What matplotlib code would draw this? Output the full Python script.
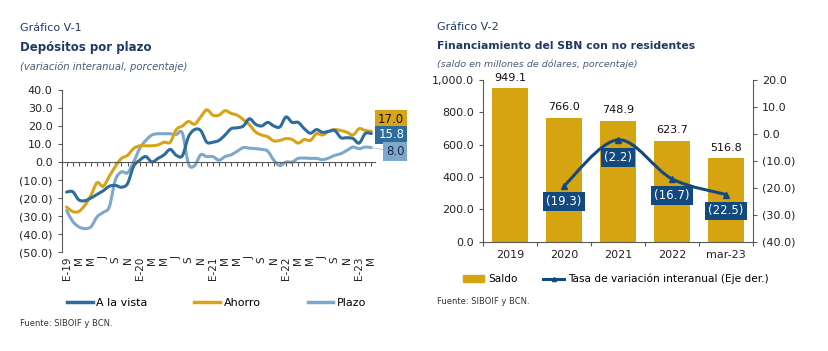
import matplotlib
matplotlib.use("Agg")
import matplotlib.pyplot as plt
from matplotlib.lines import Line2D
from matplotlib.patches import Patch, PathPatch
from matplotlib.path import Path
import numpy as np

# ---------------- data: Gráfico V-1 ----------------
month_labels = (["E-19", "M", "M", "J", "S", "N"] + ["E-20", "M", "M", "J", "S", "N"]
                + ["E-21", "M", "M", "J", "S", "N"] + ["E-22", "M", "M", "J", "S", "N"]
                + ["E-23", "M"])
a_la_vista = [-16.7, -16.5, -21, -21.5, -20, -18, -16, -13.5, -13, -14, -12, -2.4, 1, 3, 0,
              2, 4, 7, 3.7, 3.5, 14, 18, 17.5, 11, 11, 12, 15, 18.5, 19, 20, 24, 21, 20, 22,
              20, 19.5, 25, 22, 22, 18.5, 16, 18, 16.5, 17, 17.5, 13.5, 13.5, 13, 10.5, 15.8, 15.8]
ahorro = [-25, -27.5, -27.5, -24, -18.5, -11.5, -13.5, -8, -2.5, 2, 3.7, 7.5, 9, 9, 9,
          9.5, 11, 11, 18, 20, 22.5, 21, 25, 29, 26, 26, 28.5, 27, 26, 23.5, 20.7, 16.7, 15,
          14, 11.7, 12, 13, 12.5, 10.5, 12.5, 12, 15.7, 15, 17, 18, 17.5, 16.5, 15, 18.5, 17.5, 17.0]
plazo = [-27, -33, -36, -37, -36, -30.5, -28, -25, -10, -5.5, -6, 0, 7.5, 12, 15,
         15.7, 15.7, 15.7, 15.3, 16, -1, -2, 4, 3, 3, 1, 3, 4, 6, 8, 7.7, 7.4, 7, 6, 1,
         -2, 0, 0, 2, 2.2, 2, 2, 1.3, 2.2, 3.7, 4.6, 6.5, 8.3, 7.4, 8.3, 8.0]
end_labels = ["17.0", "15.8", "8.0"]

# ---------------- data: Gráfico V-2 ----------------
years = ["2019", "2020", "2021", "2022", "mar-23"]
saldo = [949.1, 766.0, 748.9, 623.7, 516.8]
tasa_years = ["2020", "2021", "2022", "mar-23"]
tasa = [-19.3, -2.2, -16.7, -22.5]

C_VISTA = "#2D6C9C"
C_AHORRO = "#D8A317"
C_PLAZO = "#7EA8CB"
C_BAR = "#D6A411"
C_NAVY = "#12497F"
C_TITLE = "#1F3A64"
C_AX = "#595959"


def paren(v, _=None):
    return f"({abs(v):,.1f})" if v < 0 else f"{v:,.1f}"


def smooth_path(xs, ys):
    """Catmull-Rom style smoothed path (like Excel's smoothed line) through the data points."""
    pts = np.column_stack([xs, ys]).astype(float)
    n = len(pts)
    verts = [pts[0]]
    codes = [Path.MOVETO]
    for i in range(n - 1):
        p0 = pts[i - 1] if i > 0 else pts[i]
        p1, p2 = pts[i], pts[i + 1]
        p3 = pts[i + 2] if i + 2 < n else pts[i + 1]
        c1 = p1 + (p2 - p0) / 6.0
        c2 = p2 - (p3 - p1) / 6.0
        verts += [c1, c2, p2]
        codes += [Path.CURVE4] * 3
    return Path(verts, codes)


def draw_smooth(ax, xs, ys, color, lw, z=2):
    ax.add_patch(PathPatch(smooth_path(xs, ys), fill=False, edgecolor=color, lw=lw,
                           joinstyle="round", capstyle="round", zorder=z))


fig = plt.figure(figsize=(8.29, 3.51), dpi=100)
W, H = 829, 351


def fx(px):
    return px / W


def fy(py):
    return 1 - py / H


# ---------------- Left chart ----------------
fig.text(fx(20), fy(28), "Gráfico V-1", fontsize=8, color=C_TITLE, va="center")
fig.text(fx(20), fy(48), "Depósitos por plazo", fontsize=8.5, color=C_TITLE,
         fontweight="bold", va="center")
fig.text(fx(20), fy(67), "(variación interanual, porcentaje)", fontsize=7.2,
         color="#4A5A75", style="italic", va="center")

ax1 = fig.add_axes([fx(61.7), fy(252), fx(375) - fx(61.7), (252 - 90) / H])
x = np.arange(len(a_la_vista))
draw_smooth(ax1, x, plazo, C_PLAZO, 2.2)
draw_smooth(ax1, x, ahorro, C_AHORRO, 2.2)
draw_smooth(ax1, x, a_la_vista, C_VISTA, 2.2)
ax1.set_xlim(-0.8, 50.6)
ax1.set_ylim(-50, 40)
ax1.set_yticks(np.arange(-50, 41, 10))
ax1.yaxis.set_major_formatter(plt.FuncFormatter(paren))
ax1.tick_params(axis="y", labelsize=8, length=3, width=0.8, direction="out",
                colors=C_AX, labelcolor="#222222")
for s in ["top", "right"]:
    ax1.spines[s].set_visible(False)
ax1.spines["left"].set_color(C_AX)
ax1.spines["bottom"].set_position(("data", 0))
ax1.spines["bottom"].set_color(C_AX)
ax1.set_xticks(x)
ax1.tick_params(axis="x", length=3, width=0.8, direction="out", colors=C_AX, labelbottom=False)
sec = ax1.secondary_xaxis(0)
sec.set_xticks(x[::2])
sec.set_xticklabels(month_labels, rotation=90, fontsize=7.5, color="#222222")
sec.tick_params(length=0, pad=3)
sec.spines["bottom"].set_visible(False)

# end labels
lab_specs = [(ahorro[-1], 23.6, C_AHORRO, "#111111", end_labels[0]),
             (a_la_vista[-1], 15.0, C_VISTA, "white", end_labels[1]),
             (plazo[-1], 5.8, C_PLAZO, "#1B2A40", end_labels[2])]
for val, ypos, bg, fg, txt in lab_specs:
    ax1.annotate(txt, xy=(50, val), xytext=(55.4, ypos), ha="right", va="center",
                 fontsize=8.5, color=fg, annotation_clip=False,
                 bbox=dict(boxstyle="square,pad=0.25", fc=bg, ec="none"),
                 arrowprops=dict(arrowstyle="-", color="#BBBBBB", lw=0.6,
                                 shrinkA=0, shrinkB=0) if txt == end_labels[2] else None)

handles1 = [Line2D([], [], color=C_VISTA, lw=2.5), Line2D([], [], color=C_AHORRO, lw=2.5),
            Line2D([], [], color=C_PLAZO, lw=2.5)]
fig.legend(handles1, ["A la vista", "Ahorro", "Plazo"], loc="center left",
           bbox_to_anchor=(fx(67), fy(303)), ncol=3, frameon=False, fontsize=8,
           handlelength=2.3, handletextpad=0.35, columnspacing=4.2, borderaxespad=0,
           borderpad=0)
fig.text(fx(20), fy(323), "Fuente: SIBOIF y BCN.", fontsize=6, color="#333333", va="center")

# ---------------- Right chart ----------------
fig.text(fx(437), fy(27), "Gráfico V-2", fontsize=8, color=C_TITLE, va="center")
fig.text(fx(437), fy(46), "Financiamiento del SBN con no residentes", fontsize=7.8,
         color=C_TITLE, fontweight="bold", va="center")
fig.text(fx(437), fy(64), "(saldo en millones de dólares, porcentaje)", fontsize=6.8,
         color="#4A5A75", style="italic", va="center")

ax2 = fig.add_axes([fx(483), fy(241.7), fx(753) - fx(483), 161.7 / H])
xb = np.arange(len(years))
ax2.bar(xb, saldo, width=0.66, color=C_BAR, label="Saldo", zorder=2)
for xi, v in zip(xb, saldo):
    ax2.annotate(f"{v:,.1f}", (xi, v), xytext=(0, 4), textcoords="offset points",
                 ha="center", va="bottom", fontsize=8, color="#111111",
                 annotation_clip=False)
ax2.set_xlim(-0.5, len(years) - 0.5)
ax2.set_ylim(0, 1000)
ax2.set_yticks(np.arange(0, 1001, 200))
ax2.yaxis.set_major_formatter(plt.FuncFormatter(paren))
ax2.set_xticks(xb)
ax2.set_xticklabels(years, fontsize=8, color="#222222")
ax2.set_xticks(np.arange(-0.5, len(years), 1), minor=True)
ax2.tick_params(axis="x", which="major", length=0, pad=6)
ax2.tick_params(axis="x", which="minor", length=3, width=0.8, color=C_AX)
ax2.tick_params(axis="y", labelsize=8, length=3, width=0.8, color=C_AX, labelcolor="#222222")
ax2.spines["top"].set_visible(False)
ax2.spines["right"].set_visible(False)
for s in ["left", "bottom"]:
    ax2.spines[s].set_color(C_AX)

ax3 = ax2.twinx()
xt = [years.index(y) for y in tasa_years]
draw_smooth(ax3, xt, tasa, C_NAVY, 2.2, z=3)
ax3.plot(xt, tasa, linestyle="none", color=C_NAVY, marker="^", markersize=5, zorder=3)
ax3.set_ylim(-40, 20)
ax3.set_yticks(np.arange(-40, 21, 10))
ax3.yaxis.set_major_formatter(plt.FuncFormatter(paren))
ax3.tick_params(axis="y", labelsize=8, length=3, width=0.8, color=C_AX, labelcolor="#222222")
for s in ["top", "left", "bottom"]:
    ax3.spines[s].set_visible(False)
ax3.spines["right"].set_color(C_AX)
label_y = [-25.2, -8.6, -22.7, -28.6]
for xi, v, ly in zip(xt, tasa, label_y):
    ax3.text(xi, ly, paren(v), ha="center", va="center", fontsize=8.5, color="white",
             bbox=dict(boxstyle="square,pad=0.25", fc=C_NAVY, ec="none"), zorder=4)

handles2 = [Patch(color=C_BAR), Line2D([], [], color=C_NAVY, lw=2.2, marker="^", markersize=3)]
fig.legend(handles2, ["Saldo", "Tasa de variación interanual (Eje der.)"], loc="center left",
           bbox_to_anchor=(fx(463), fy(279)), ncol=2, frameon=False, fontsize=7.6,
           handlelength=2.0, handleheight=0.5, handletextpad=0.4, columnspacing=2.4,
           borderaxespad=0, borderpad=0)
fig.text(fx(437), fy(302), "Fuente: SIBOIF y BCN.", fontsize=6, color="#333333", va="center")

fig.savefig("out.png", dpi=100, facecolor="white")
